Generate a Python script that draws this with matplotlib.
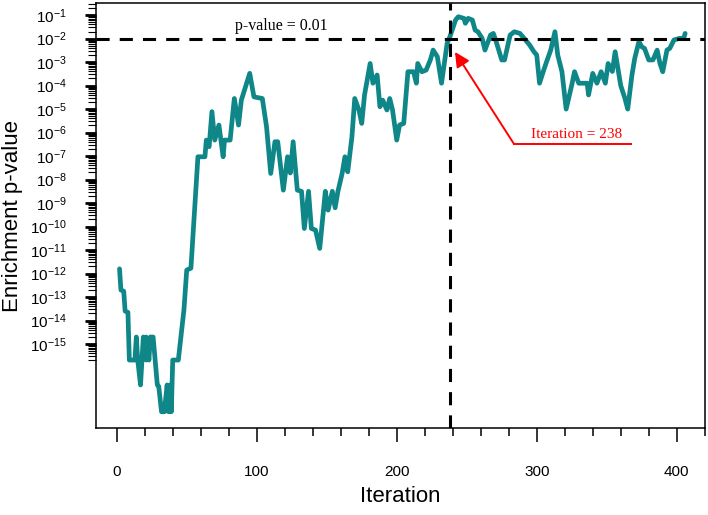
import numpy as np
import matplotlib
matplotlib.use("Agg")
import matplotlib.pyplot as plt
from matplotlib.ticker import FixedLocator, FixedFormatter

plt.rcParams['font.family'] = ['Liberation Sans', 'DejaVu Sans']

# iteration number and log10(enrichment p-value)
iteration = [2, 3, 5, 6, 8, 9, 13, 14, 15, 17, 19, 21, 21, 23, 24, 26, 29, 30, 32, 34, 36, 37, 38, 39, 40, 44,
             48, 50, 53, 58, 63, 64, 66, 68, 70, 73, 76, 77, 81, 84, 87, 89, 92, 95, 98, 104, 107, 110, 113, 115,
             119, 122, 124, 126, 129, 132, 134, 137, 139, 142, 145, 149, 151, 154, 156, 158, 161, 163, 165, 168,
             170, 173, 175, 177, 181, 183, 186, 188, 190, 193, 195, 197, 200, 202, 205, 208, 212, 214, 215, 218,
             221, 224, 226, 229, 232, 236, 238, 242, 244, 248, 249, 251, 254, 256, 258, 261, 263, 267, 269, 271,
             275, 277, 281, 284, 288, 292, 295, 298, 300, 302, 305, 307, 310, 313, 315, 318, 321, 325, 327, 330,
             336, 337, 340, 343, 346, 349, 351, 354, 356, 360, 363, 365, 368, 370, 373, 375, 377, 380, 383, 386,
             388, 390, 393, 395, 398, 402, 405, 406]
log_p = [-11.8, -12.7, -12.75, -13.6, -13.65, -15.68, -15.68, -14.7, -15.68, -16.74, -14.7, -15.68, -14.7,
         -15.68, -14.7, -14.7, -16.74, -16.8, -17.88, -17.88, -16.74, -17.88, -16.74, -17.88, -15.68, -15.68,
         -13.55, -11.85, -11.77, -7.03, -7.03, -6.32, -6.6, -5.11, -6.32, -5.68, -7.03, -6.32, -6.32, -4.55,
         -5.68, -4.62, -4.05, -3.48, -4.48, -4.55, -5.75, -7.74, -6.39, -6.39, -8.45, -7.03, -7.72, -6.39,
         -8.45, -8.5, -10.08, -8.5, -10.08, -10.15, -10.93, -8.5, -9.3, -8.5, -9.2, -8.5, -7.74, -7.03, -7.67,
         -6.18, -4.55, -5.04, -5.61, -4.4, -3.06, -3.9, -3.55, -4.9, -4.62, -5.04, -4.55, -5.04, -6.32, -5.68,
         -5.61, -3.41, -3.41, -3.9, -3.06, -3.41, -3.34, -2.91, -2.49, -2.77, -3.9, -2.2, -1.92, -1.21, -1.07,
         -1.14, -1.35, -1.14, -1.21, -1.64, -1.71, -1.99, -2.49, -1.85, -1.78, -2.13, -2.91, -2.91, -1.85,
         -1.71, -1.78, -2.06, -2.28, -2.56, -2.7, -3.9, -3.34, -2.99, -2.49, -1.71, -2.7, -3.41, -5.0, -3.98,
         -3.41, -3.9, -3.9, -4.4, -3.48, -3.9, -3.41, -3.9, -3.06, -3.4, -2.56, -4.0, -4.55, -5.0, -3.55,
         -2.84, -2.13, -2.35, -2.42, -2.91, -2.91, -2.49, -3.06, -3.41, -2.49, -2.42, -2.06, -1.99, -1.99,
         -1.78]
p_value = 10.0 ** np.array(log_p)

threshold = 0.01
cross_iter = 238
x_major = [0, 100, 200, 300, 400]
y_exps = list(range(-1, -16, -1))

fig = plt.figure(figsize=(7.08, 5.15), dpi=100)
ax = fig.add_axes([0.1356, 0.169, 0.8602, 0.825])

ax.plot(iteration, p_value, color='#0f8688', lw=3.4, solid_joinstyle='round', solid_capstyle='round', zorder=3)
ax.axhline(threshold, color='black', lw=2.2, dashes=(4.3, 3.3), zorder=4)
ax.axvline(cross_iter, color='black', lw=2.2, dashes=(4.3, 3.3), zorder=4)

ax.set_yscale('log')
ax.set_xlim(-14.8, 420.2)
ax.set_ylim(10 ** -18.57, 10 ** -0.49)

ax.xaxis.set_major_locator(FixedLocator(x_major))
ax.xaxis.set_minor_locator(FixedLocator([v for v in range(0, 421, 20) if v % 100 != 0]))
ax.yaxis.set_major_locator(FixedLocator([10.0 ** e for e in y_exps]))
ax.yaxis.set_major_formatter(FixedFormatter([r'$\mathregular{10^{%d}}$' % e for e in y_exps]))
ax.yaxis.set_minor_locator(FixedLocator([k * 10.0 ** n for n in range(-16, 0) for k in range(2, 10)]))
ax.yaxis.set_minor_formatter(FixedFormatter([]))

ax.tick_params(axis='x', which='major', direction='out', length=10, width=1.1, pad=17, labelsize=11)
ax.tick_params(axis='x', which='minor', direction='out', length=6, width=1.1)
ax.tick_params(axis='y', which='major', direction='out', length=8, width=2, pad=13, labelsize=11)
ax.tick_params(axis='y', which='minor', direction='out', length=6, width=0.8)
for s in ax.spines.values():
    s.set_linewidth(1.1)

ax.set_xlabel('Iteration', fontsize=16, labelpad=5)
ax.set_ylabel('Enrichment p-value', fontsize=16, labelpad=5)

ax.text(117.5, 10 ** -1.47, 'p-value = 0.01', family='Liberation Serif', fontsize=11.5,
        ha='center', va='center')
ax.annotate('', xy=(241.6, 10 ** -2.57), xytext=(283.8, 10 ** -6.49),
            arrowprops=dict(arrowstyle='-|>', color='red', lw=1.4, mutation_scale=22, shrinkA=0, shrinkB=0))
ax.plot([283.8, 367.4], [10 ** -6.49, 10 ** -6.49], color='red', lw=1.4)
ax.text(328.4, 10 ** -6.1, 'Iteration = 238', family='Liberation Serif', fontsize=11,
        color='red', ha='center', va='center')

fig.savefig('out.png', dpi=100)
